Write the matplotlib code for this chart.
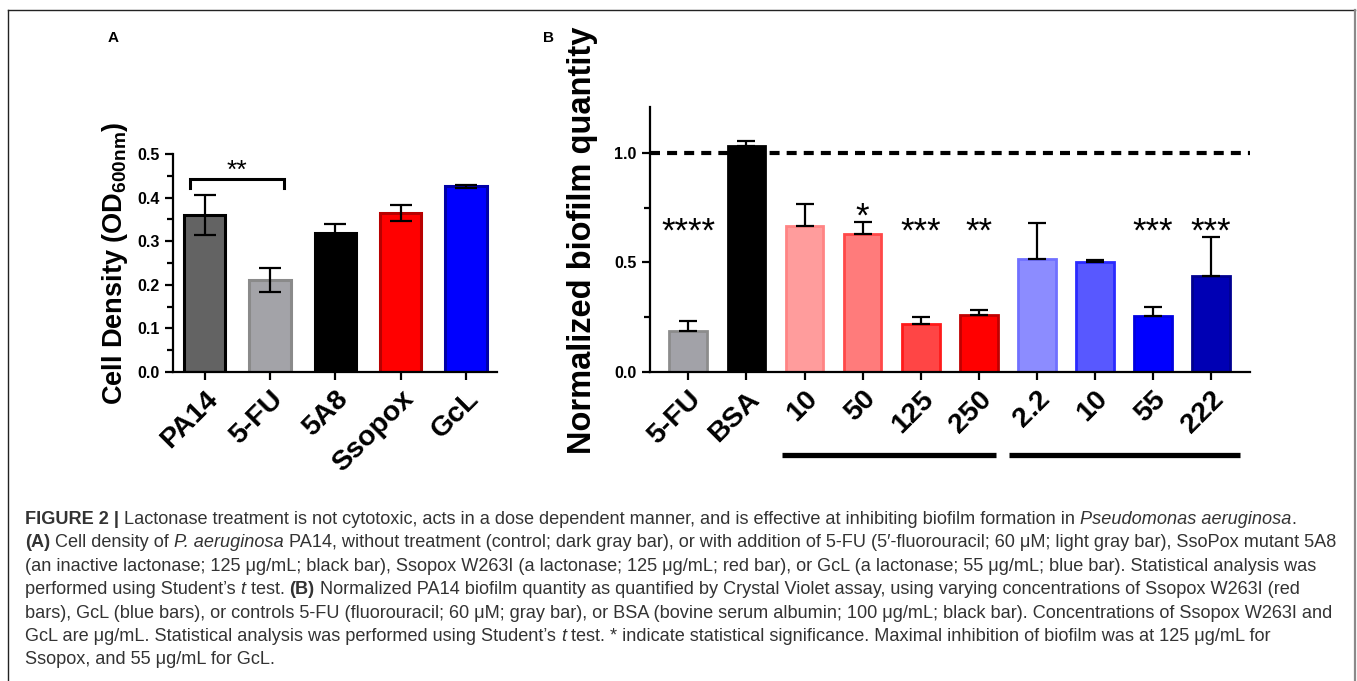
import matplotlib
matplotlib.use("Agg")
import matplotlib.pyplot as plt
import matplotlib.transforms as mtransforms
from matplotlib.lines import Line2D

plt.rcParams['font.family'] = ['Liberation Sans', 'DejaVu Sans']
plt.rcParams['mathtext.fontset'] = 'custom'
plt.rcParams['mathtext.bf'] = 'Liberation Sans:bold'
plt.rcParams['mathtext.rm'] = 'Liberation Sans:bold'
plt.rcParams['mathtext.default'] = 'bf'

# ---------------- data ----------------
a_labels = ['PA14', '5-FU', '5A8', 'Ssopox', 'GcL']
a_values = [0.360, 0.211, 0.318, 0.365, 0.426]
a_errors = [0.045, 0.027, 0.021, 0.019, 0.003]
a_colors = ['#636363', '#a3a3a8', '#000000', '#ff0000', '#0000ff']
a_edges = ['#000000', '#8a8a8a', '#000000', '#b80000', '#0000a8']
a_ticks = [0.0, 0.1, 0.2, 0.3, 0.4, 0.5]

b_labels = ['5-FU', 'BSA', '10', '50', '125', '250', '2.2', '10', '55', '222']
b_values = [0.185, 1.030, 0.668, 0.630, 0.217, 0.258, 0.517, 0.502, 0.255, 0.439]
b_errors = [0.050, 0.023, 0.098, 0.057, 0.036, 0.026, 0.163, 0.008, 0.041, 0.179]
b_stars = ['****', '', '', '*', '***', '**', '', '', '***', '***']
b_colors = ['#a2a2a8', '#000000', '#ff9c9c', '#ff7b7b', '#ff4545', '#ff0000',
            '#8c8cff', '#5858ff', '#0000ff', '#0000b4']
b_edges = ['#8c8c8c', '#000000', '#ff8484', '#ff4848', '#ff1a1a', '#c00000',
           '#7070ff', '#2a2aff', '#0000e0', '#000090']
b_ticks = [0.0, 0.5, 1.0]
b_reference = 1.0
b_groups = [(1.61, 5.29), (5.52, 9.49)]

caption_lines = [
    [("FIGURE 2 | ", "bold"), ("Lactonase treatment is not cytotoxic, acts in a dose dependent manner, and is effective at inhibiting biofilm formation in ", "normal"),
     ("Pseudomonas aeruginosa", "italic"), (".", "normal")],
    [("(A)", "bold"), (" Cell density of ", "normal"), ("P. aeruginosa", "italic"),
     (" PA14, without treatment (control; dark gray bar), or with addition of 5-FU (5\u2032-fluorouracil; 60 \u03bcM; light gray bar), SsoPox mutant 5A8", "normal")],
    [("(an inactive lactonase; 125 \u03bcg/mL; black bar), Ssopox W263I (a lactonase; 125 \u03bcg/mL; red bar), or GcL (a lactonase; 55 \u03bcg/mL; blue bar). Statistical analysis was", "normal")],
    [("performed using Student\u2019s ", "normal"), ("t", "italic"), (" test. ", "normal"), ("(B)", "bold"),
     (" Normalized PA14 biofilm quantity as quantified by Crystal Violet assay, using varying concentrations of Ssopox W263I (red", "normal")],
    [("bars), GcL (blue bars), or controls 5-FU (fluorouracil; 60 \u03bcM; gray bar), or BSA (bovine serum albumin; 100 \u03bcg/mL; black bar). Concentrations of Ssopox W263I and", "normal")],
    [("GcL are \u03bcg/mL. Statistical analysis was performed using Student\u2019s ", "normal"), ("t", "italic"),
     (" test. * indicate statistical significance. Maximal inhibition of biofilm was at 125 \u03bcg/mL for", "normal")],
    [("Ssopox, and 55 \u03bcg/mL for GcL.", "normal")],
]

W, H = 1357, 681
fig = plt.figure(figsize=(W / 100, H / 100), dpi=100)


def fx(px):
    return px / W


def fy(py):
    return 1 - py / H


XL_SIZE = 20.5


def style_axes(ax, xticks, xlabels):
    for s in ['top', 'right']:
        ax.spines[s].set_visible(False)
    for s in ['left', 'bottom']:
        ax.spines[s].set_linewidth(1.6)
    ax.tick_params(axis='both', which='major', width=1.6, length=6)
    ax.tick_params(axis='y', which='major', labelsize=11.5)
    ax.tick_params(axis='x', which='major', pad=2)
    ax.tick_params(axis='y', which='minor', width=1.6, length=4)
    ax.tick_params(axis='x', which='minor', length=0)
    for lab in ax.get_yticklabels():
        lab.set_fontweight('bold')
    ax.set_xticks(xticks)
    ax.set_xticklabels(xlabels, rotation=45, ha='right', va='center', rotation_mode='anchor',
                       fontsize=XL_SIZE, fontweight='bold')
    off = mtransforms.ScaledTranslation(9 / 100, -12 / 100, fig.dpi_scale_trans)
    for lab in ax.get_xticklabels():
        lab.set_transform(lab.get_transform() + off)


# ---------------- panel A ----------------
axA = fig.add_axes([fx(173), fy(372), fx(497.5 - 173), (372 - 154) / H])
xa = list(range(len(a_labels)))
axA.bar(xa, a_values, width=0.635, color=a_colors, edgecolor=a_edges, linewidth=2.2, zorder=2)
axA.errorbar(xa, a_values, yerr=a_errors, fmt='none', ecolor='black', elinewidth=1.6,
             capsize=8, capthick=1.6, zorder=3)
axA.set_xlim(-0.485, 4.485)
axA.set_ylim(0, 0.5)
axA.set_yticks(a_ticks)
axA.set_yticks([0.05, 0.15, 0.25, 0.35, 0.45], minor=True)
axA.set_yticklabels(['%.1f' % t for t in a_ticks])
style_axes(axA, xa, a_labels)
# significance bracket
axA.plot([-0.225, -0.225, 1.21, 1.21], [0.421, 0.442, 0.442, 0.421], color='black', lw=2.2,
         solid_joinstyle='miter', clip_on=False)
axA.text((-0.225 + 1.21) / 2, 0.446, '**', ha='center', va='baseline', fontsize=19)

fig.text(fx(115), fy(263), r'Cell Density (OD$_{600nm}$)', rotation=90, ha='center', va='center',
         fontsize=19.5, fontweight='bold')
fig.text(fx(113), fy(38), 'A', ha='center', va='center', fontsize=11, fontweight='bold')

# ---------------- panel B ----------------
axB = fig.add_axes([fx(650), fy(372), fx(1250 - 650), (372 - 107) / H])
xb = list(range(len(b_labels)))
axB.bar(xb, b_values, width=0.65, color=b_colors, edgecolor=b_edges, linewidth=2.0, zorder=2)
axB.errorbar(xb, b_values, yerr=[[0] * len(b_errors), b_errors], fmt='none', ecolor='black',
             elinewidth=1.6, capsize=6.5, capthick=1.6, zorder=3)
axB.axhline(b_reference, color='black', lw=3, linestyle=(0, (2.4, 1.7)), zorder=1)
axB.set_xlim(-0.66, 9.67)
axB.set_ylim(0, 1.21)
axB.set_yticks(b_ticks)
axB.set_yticks([0.25, 0.75], minor=True)
axB.set_yticklabels(['%.1f' % t for t in b_ticks])
style_axes(axB, xb, b_labels)
for i, s in enumerate(b_stars):
    if s:
        base = 0.662 if s == '*' else 0.595
        axB.text(i, base, s, ha='center', va='baseline', fontsize=25)
trans = mtransforms.blended_transform_factory(axB.transData, axB.transAxes)
for g0, g1 in b_groups:
    axB.plot([g0, g1], [-0.313, -0.313], color='black', lw=3.8, solid_capstyle='butt',
             transform=trans, clip_on=False)

fig.text(fx(583), fy(240), 'Normalized biofilm quantity', rotation=90, ha='center', va='center',
         fontsize=23.5, fontweight='bold')
fig.text(fx(548), fy(38), 'B', ha='center', va='center', fontsize=11, fontweight='bold')

# ---------------- frame ----------------
fig.add_artist(Line2D([fx(8), fx(8)], [fy(10), 0], color='#222222', lw=1.0, transform=fig.transFigure))
fig.add_artist(Line2D([fx(8), fx(1355)], [fy(10), fy(10)], color='#222222', lw=1.0, transform=fig.transFigure))
fig.add_artist(Line2D([fx(1355), fx(1355)], [fy(10), 0], color='#8a8a8a', lw=1.6, transform=fig.transFigure))

# ---------------- caption ----------------
renderer = fig.canvas.get_renderer()
cap_size = 13.1
cap_color = '#333333'


def seg_props(style):
    if style == 'bold':
        return dict(fontweight='bold')
    if style == 'italic':
        return dict(fontstyle='italic')
    return {}


def text_width(s, props):
    t1 = fig.text(0, 0, '|' + s + '|', fontsize=cap_size, **props)
    t2 = fig.text(0, 0, '||', fontsize=cap_size, **props)
    w = t1.get_window_extent(renderer).width - t2.get_window_extent(renderer).width
    t1.remove()
    t2.remove()
    return w


y0 = 524
dy = 23.4
for li, line in enumerate(caption_lines):
    x = 25.0
    y = y0 + li * dy
    for s, style in line:
        props = seg_props(style)
        fig.text(fx(x), fy(y), s, fontsize=cap_size, color=cap_color, va='baseline', ha='left', **props)
        x += text_width(s, props)

fig.savefig('out.png', dpi=100)
